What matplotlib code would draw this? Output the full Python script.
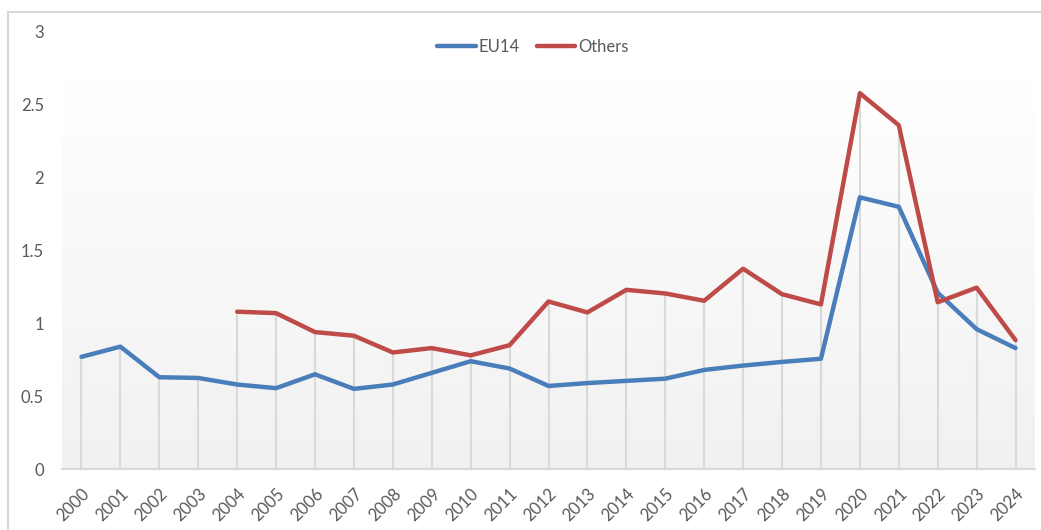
import numpy as np
import matplotlib.pyplot as plt
from matplotlib.patches import Rectangle

years = [str(y) for y in range(2000, 2025)]
eu14 = [0.77, 0.84, 0.63, 0.625, 0.58, 0.555, 0.65, 0.55, 0.58, 0.66,
        0.74, 0.69, 0.57, 0.59, 0.605, 0.62, 0.68, 0.71, 0.735, 0.757,
        1.865, 1.80, 1.21, 0.96, 0.83]
# Others series starts in 2004
others = [np.nan, np.nan, np.nan, np.nan, 1.08, 1.07, 0.94, 0.915, 0.80, 0.83,
          0.78, 0.85, 1.15, 1.075, 1.23, 1.205, 1.155, 1.375, 1.20, 1.13,
          2.58, 2.36, 1.145, 1.245, 0.885]
yticks = [0, 0.5, 1, 1.5, 2, 2.5, 3]
ytick_labels = ["0", "0.5", "1", "1.5", "2", "2.5", "3"]

plt.rcParams['font.family'] = ['Lato', 'DejaVu Sans']
text_color = '#595959'
grid_color = '#d9d9d9'

W, H = 1041, 530
fig = plt.figure(figsize=(W / 100, H / 100), dpi=100)
ax = fig.add_axes([62 / W, 1 - 469 / H, (1035 - 62) / W, (469 - 32) / H])

# chart border (only top/left visible in the crop)
fig.patches.append(Rectangle((8 / W, -0.2), 1.2, 1.2 - 12 / H,
                             transform=fig.transFigure, fill=False,
                             edgecolor=grid_color, linewidth=1.5))

x = np.arange(len(years))
ax.set_xlim(-0.5, len(years) - 0.5)
ax.set_ylim(0, 3)

# gradient plot background
grad = np.linspace(1, 0, 256).reshape(-1, 1)
top, bottom = np.array([1.0, 1.0, 1.0]), np.array([0.945, 0.945, 0.945])
img = bottom + (top - bottom) * grad[..., None]
ax.imshow(img, extent=[-0.5, len(years) - 0.5, 0, 2.65], aspect='auto',
          zorder=0, interpolation='bilinear')

# drop lines from highest point to axis
high = np.fmax(np.array(eu14), np.array(others))
ax.vlines(x, 0, high, color=grid_color, linewidth=1.5, zorder=1)

ax.plot(x, eu14, color='#4a7ebb', linewidth=3.2, label='EU14',
        solid_capstyle='round', zorder=3)
ax.plot(x, others, color='#be4b48', linewidth=3.2, label='Others',
        solid_capstyle='round', zorder=3)

for s in ['top', 'right', 'left']:
    ax.spines[s].set_visible(False)
ax.spines['bottom'].set_color(grid_color)
ax.spines['bottom'].set_linewidth(1.5)

ax.set_yticks(yticks)
ax.set_yticklabels(ytick_labels)
ax.set_xticks(x)
ax.set_xticklabels(years, rotation=45, ha='right', va='top', rotation_mode='anchor')
ax.tick_params(axis='both', length=0, labelsize=12, colors=text_color)
ax.tick_params(axis='y', pad=13)
ax.tick_params(axis='x', pad=12)

fig.legend(loc='center', bbox_to_anchor=(533 / W, 1 - 47 / H), ncol=2,
           frameon=False, fontsize=12, handlelength=2.3, handletextpad=0.2,
           columnspacing=1.0, labelcolor=text_color)

fig.savefig('out.png', dpi=100)
